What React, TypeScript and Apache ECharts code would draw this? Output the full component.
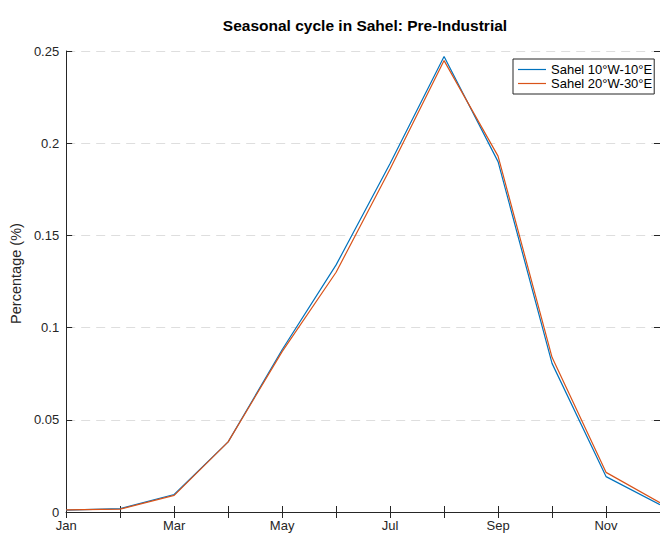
import React, { useEffect, useRef } from "react";
import * as echarts from "echarts";

const months = ["Jan", "Feb", "Mar", "Apr", "May", "Jun", "Jul", "Aug", "Sep", "Oct", "Nov", "Dec"];
const sahelWest = [0.001, 0.0018, 0.0095, 0.038, 0.088, 0.134, 0.189, 0.247, 0.19, 0.0806, 0.0192, 0.004];
const sahelWide = [0.0012, 0.0016, 0.009, 0.038, 0.087, 0.130, 0.186, 0.2448, 0.193, 0.0839, 0.0215, 0.005];
const seriesNames = ["Sahel 10°W-10°E", "Sahel 20°W-30°E"];
const titleText = "Seasonal cycle in Sahel: Pre-Industrial";
const yName = "Percentage (%)";

const FONT = "'Liberation Sans', Arial, Helvetica, sans-serif";
const AX = "#262626";

export default function App() {
  const ref = useRef<HTMLDivElement>(null);
  useEffect(() => {
    if (!ref.current) return;
    const chart = echarts.init(ref.current, undefined, { renderer: "svg" });
    chart.setOption({
      animation: false,
      backgroundColor: "#ffffff",
      textStyle: { fontFamily: FONT },
      title: {
        text: titleText,
        left: 365,
        top: 17,
        padding: 0,
        textAlign: "center",
        textStyle: { fontFamily: FONT, fontSize: 15.5, fontWeight: "bold", color: "#000" },
      },
      legend: {
        left: 513,
        top: 59,
        orient: "vertical",
        icon: "rect",
        itemWidth: 28,
        itemHeight: 1.2,
        itemGap: 1,
        padding: [4, 2, 4, 5],
        borderColor: AX,
        borderWidth: 1,
        backgroundColor: "#fff",
        textStyle: { fontFamily: FONT, fontSize: 13, color: "#000", lineHeight: 13 },
        data: seriesNames,
      },
      grid: { left: 65, top: 51, width: 599.5, height: 461 },
      xAxis: [
        {
          type: "category",
          data: months,
          boundaryGap: false,
          axisLine: { lineStyle: { color: AX, width: 1 } },
          axisTick: { inside: true, length: 6, interval: 0, lineStyle: { color: AX } },
          axisLabel: { interval: 1, color: AX, fontSize: 13, margin: 7, fontFamily: FONT },
          splitLine: { show: false },
        },
        {
          type: "category",
          data: months,
          boundaryGap: false,
          position: "top",
          axisLine: { lineStyle: { color: AX, width: 1 } },
          axisTick: { inside: true, length: 6, interval: 0, lineStyle: { color: AX } },
          axisLabel: { show: false },
          splitLine: { show: false },
        },
      ],
      yAxis: [
        {
          type: "value",
          min: 0,
          max: 0.25,
          interval: 0.05,
          name: yName,
          nameLocation: "middle",
          nameGap: 38,
          nameTextStyle: { fontFamily: FONT, fontSize: 14.5, color: AX, padding: [0, 0, 0, 16] },
          axisLine: { show: true, lineStyle: { color: AX, width: 1 } },
          axisTick: { show: true, inside: true, length: 6, lineStyle: { color: AX } },
          axisLabel: { color: AX, fontSize: 13, margin: 7, fontFamily: FONT },
          splitLine: { show: true, lineStyle: { color: "#dedede", type: [9, 6], width: 1 } },
        },
        {
          type: "value",
          min: 0,
          max: 0.25,
          interval: 0.05,
          position: "right",
          axisLine: { show: true, lineStyle: { color: AX, width: 1 } },
          axisTick: { show: true, inside: true, length: 6, lineStyle: { color: AX } },
          axisLabel: { show: false },
          splitLine: { show: false },
        },
      ],
      series: [
        {
          name: seriesNames[0],
          type: "line",
          data: sahelWest,
          symbol: "none",
          lineStyle: { color: "#0072BD", width: 1.2 },
          itemStyle: { color: "#0072BD" },
        },
        {
          name: seriesNames[1],
          type: "line",
          data: sahelWide,
          symbol: "none",
          lineStyle: { color: "#D95319", width: 1.2 },
          itemStyle: { color: "#D95319" },
        },
      ],
    });
    return () => chart.dispose();
  }, []);
  return (
    <div
      ref={ref}
      style={{ position: "fixed", left: 0, top: 0, width: 660, height: 533, background: "#fff" }}
    />
  );
}
